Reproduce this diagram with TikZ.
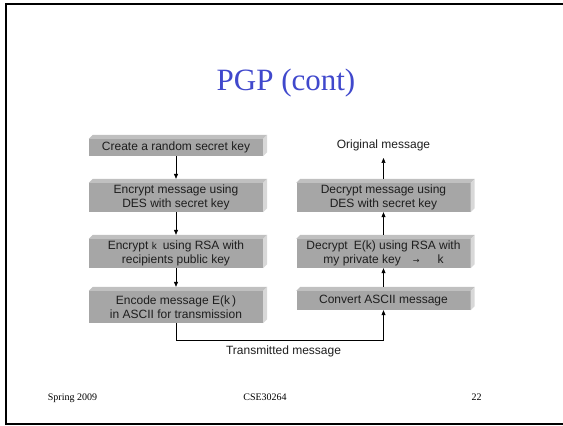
\documentclass[tikz,border=0pt]{standalone}
\usepackage{fontspec}
\setmainfont{Liberation Sans}
\newfontfamily\serifface{Liberation Serif}
\newfontfamily\symface{DejaVu Sans}
\usetikzlibrary{arrows.meta,calc}

\definecolor{boxface}{RGB}{166,166,166}
\definecolor{boxtop}{RGB}{192,192,192}
\definecolor{boxside}{RGB}{216,216,216}
\definecolor{titleblue}{RGB}{64,72,204}
\definecolor{inkgray}{RGB}{30,30,30}

\tikzset{
  slab/.style={fill=boxface, inner sep=0pt, minimum width=174pt, align=center,
               text=inkgray, font=\fontsize{12}{13.5}\selectfont},
  label text/.style={inner xsep=0pt, anchor=base, text=inkgray, font=\fontsize{12}{13.5}\selectfont},
  footer/.style={anchor=base, inner sep=0pt, font=\serifface\fontsize{10}{12}\selectfont},
  flow/.style={line width=0.6pt, -{Triangle[length=5pt,width=4pt]}},
}

\begin{document}
\begin{tikzpicture}[x=1pt, y=-1pt]
  \useasboundingbox (0,0) rectangle (563,426);
  % slide frame
  \draw[line width=2pt] (6.3,4.3) rectangle (580,423.5);

  % title
  \node[anchor=base, inner sep=0pt, text=titleblue, font=\serifface\fontsize{31}{36}\selectfont]
    (title) at (286,90) {PGP (cont)};

  % sender side
  \node[slab, minimum height=17pt] (L1) at (176,147.5) {Create a random secret key};
  \node[slab, minimum height=29pt] (L2) at (176,197.5) {Encrypt message using\\DES with secret key};
  \node[slab, minimum height=29pt] (L3) at (176,253.5) {Encrypt {\fontsize{10}{12}\selectfont k}\enspace using RSA with\\recipients public key};
  \node[slab, minimum height=32pt] (L4) at (176,307) {Encode message E(k\,)\\in ASCII for transmission};

  % receiver side
  \node[slab, minimum height=29pt] (R1) at (383.5,197.5) {Decrypt message using\\DES with secret key};
  \node[slab, minimum height=29pt] (R2) at (383.5,253.5) {Decrypt\enspace E(k) using RSA with\\my private key\quad{\symface\fontsize{8}{10}\selectfont →}\quad\enspace k};
  \node[slab, minimum height=19pt] (R3) at (383.5,300.5) {Convert ASCII message};

  % bevelled top and right edges of each slab
  \foreach \b in {L1,L2,L3,L4,R1,R2,R3} {
    \fill[boxtop] (\b.north west) -- ($(\b.north west)+(4,-4)$) -- ($(\b.north east)+(4,-4)$) -- (\b.north east) -- cycle;
    \fill[boxside] (\b.north east) -- ($(\b.north east)+(4,-4)$) -- ($(\b.south east)+(4,-4)$) -- (\b.south east) -- cycle;
  }

  % free labels
  \node[label text, inner ysep=7pt] (orig) at (383.5,148.3) {Original message};
  \node[label text, inner ysep=0pt] (sent) at (283.5,354.3) {Transmitted message};

  % connectors
  \draw[flow] (L1.south) -- ($(L2.north)+(0,-4)$);
  \draw[flow] (L2.south) -- ($(L3.north)+(0,-4)$);
  \draw[flow] (L3.south) -- ($(L4.north)+(0,-4)$);
  \draw[flow] (L4.south) -- ++(0,17) -| (R3.south);
  \draw[flow] ($(R3.north)+(0,-4)$) -- (R2.south);
  \draw[flow] ($(R2.north)+(0,-4)$) -- (R1.south);
  \draw[flow] ($(R1.north)+(0,-4)$) -- (orig.south);

  % footer
  \node[footer] (term) at (72.5,400) {Spring 2009};
  \node[footer] (course) at (265,400) {CSE30264};
  \node[footer] (page) at (476.5,400) {22};
\end{tikzpicture}
\end{document}
